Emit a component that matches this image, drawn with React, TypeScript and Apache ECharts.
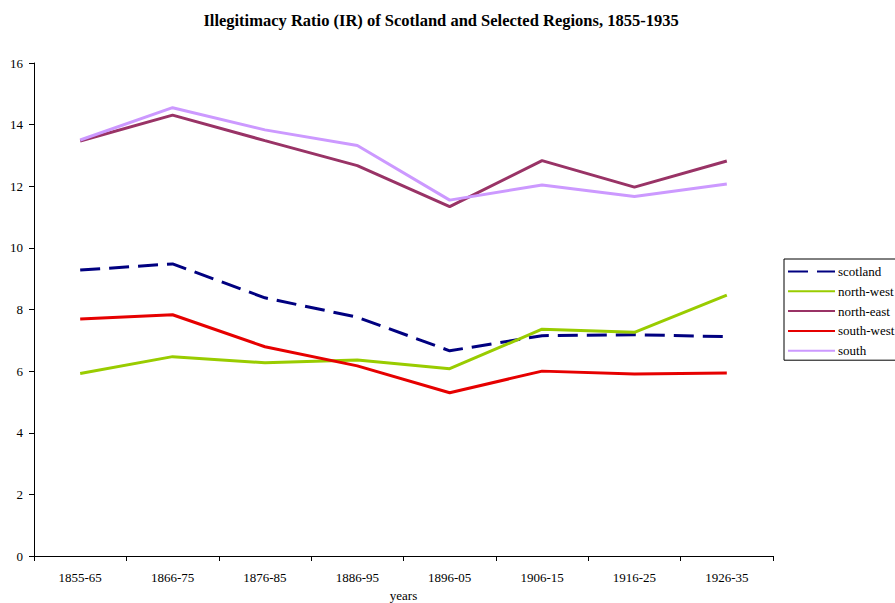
import React, { useEffect, useRef } from "react";
import * as echarts from "echarts";

const categories = ["1855-65", "1866-75", "1876-85", "1886-95", "1896-05", "1906-15", "1916-25", "1926-35"];
const scotland = [9.28, 9.48, 8.38, 7.75, 6.66, 7.15, 7.18, 7.12];
const northWest = [5.92, 6.47, 6.27, 6.36, 6.08, 7.36, 7.26, 8.47];
const northEast = [13.47, 14.31, 13.48, 12.67, 11.34, 12.83, 11.97, 12.82];
const southWest = [7.69, 7.83, 6.79, 6.17, 5.3, 6.0, 5.91, 5.94];
const south = [13.5, 14.55, 13.83, 13.32, 11.55, 12.04, 11.67, 12.07];
const yTicks = { min: 0, max: 16, interval: 2 };

const FONT = '"Liberation Serif", "Times New Roman", serif';

export default function App() {
  const ref = useRef<HTMLDivElement>(null);
  useEffect(() => {
    if (!ref.current) return;
    const chart = echarts.init(ref.current, undefined, { renderer: "svg" });
    const mk = (name: string, data: number[], color: string, dashed = false) => ({
      name,
      type: "line",
      data,
      symbol: "none",
      showSymbol: false,
      lineStyle: { color, width: 3, type: dashed ? [20, 9] : "solid" },
      itemStyle: { color },
    });
    chart.setOption({
      animation: false,
      backgroundColor: "#fff",
      textStyle: { fontFamily: FONT },
      title: {
        text: "Illegitimacy Ratio (IR) of Scotland and Selected Regions, 1855-1935",
        left: 436,
        textAlign: "center",
        top: 7,
        textStyle: { fontFamily: FONT, fontSize: 16.5, fontWeight: "bold", color: "#000" },
      },
      grid: { left: 34, right: 122, top: 63, bottom: 47, containLabel: false, outerBoundsMode: "none" },
      legend: {
        orient: "vertical",
        left: 784,
        top: 259,
        padding: [6, 60, 3, 3],
        itemWidth: 47,
        itemHeight: 12,
        itemGap: 6.8,
        borderColor: "#000",
        borderWidth: 1,
        borderRadius: 0,
        itemStyle: { opacity: 0 },
        textStyle: { fontFamily: FONT, fontSize: 13, color: "#000", padding: [0, 0, 0, -2] },
        data: ["scotland", "north-west", "north-east", "south-west", "south"],
      },
      xAxis: {
        type: "category",
        data: categories,
        boundaryGap: true,
        name: "years",
        nameLocation: "middle",
        nameGap: 33,
        nameTextStyle: { fontFamily: FONT, fontSize: 13, color: "#000" },
        axisLine: { lineStyle: { color: "#000", width: 1 } },
        axisTick: { show: true, length: 5, inside: false, lineStyle: { color: "#000" } },
        axisLabel: { fontFamily: FONT, fontSize: 13, color: "#000", margin: 15 },
        splitLine: { show: false },
      },
      yAxis: {
        type: "value",
        min: yTicks.min,
        max: yTicks.max,
        interval: yTicks.interval,
        axisLine: { show: true, lineStyle: { color: "#000", width: 1 } },
        axisTick: { show: true, length: 5, lineStyle: { color: "#000" } },
        axisLabel: { fontFamily: FONT, fontSize: 13, color: "#000", margin: 11 },
        splitLine: { show: false },
      },
      series: [
        mk("scotland", scotland, "#000080", true),
        mk("north-west", northWest, "#99CC00"),
        mk("north-east", northEast, "#993366"),
        mk("south-west", southWest, "#E60000"),
        mk("south", south, "#CC99FF"),
      ],
    });
    return () => chart.dispose();
  }, []);
  return (
    <div
      ref={ref}
      style={{ position: "fixed", left: 0, top: 0, width: 895, height: 603, background: "#fff" }}
    />
  );
}
